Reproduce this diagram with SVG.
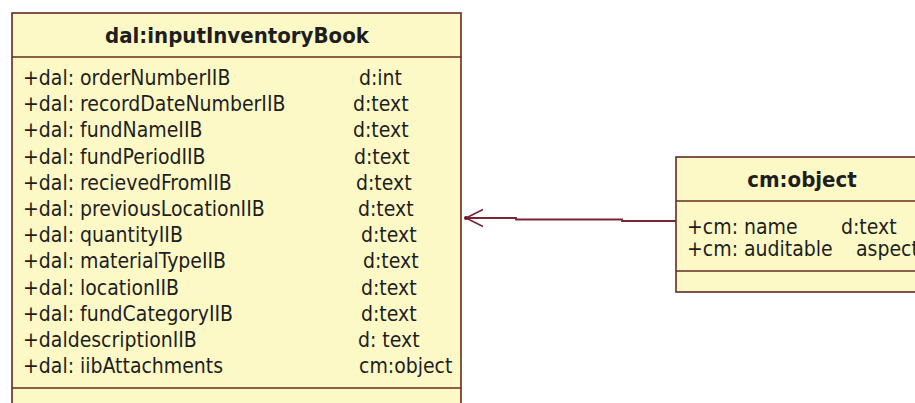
<svg xmlns="http://www.w3.org/2000/svg" width="915" height="403" viewBox="0 0 915 403">
  <defs>
    <style>
      .box { fill: #fdf9c6; stroke: #642a24; stroke-width: 1.6; }
      .sep { stroke: #642a24; stroke-width: 1.6; }
      .title { font-family: "DejaVu Sans Condensed", "DejaVu Sans", sans-serif; font-size: 22px; font-weight: bold; fill: #1e1e1e; text-anchor: middle; }
      .attr { font-family: "DejaVu Sans Condensed", "DejaVu Sans", sans-serif; font-size: 21px; fill: #1e1e1e; }
      .link { fill: none; stroke: #7a2434; stroke-width: 1.8; }
    </style>
    <marker id="openArrow" viewBox="0 0 20 20" refX="18" refY="10" markerWidth="20" markerHeight="20" markerUnits="userSpaceOnUse" orient="auto">
      <path d="M1 1.5 L18 10 L1 18.5" fill="none" stroke="#7a2434" stroke-width="1.6"/>
      <circle cx="18" cy="10" r="2" fill="#6a1a2a"/>
    </marker>
  </defs>

  <rect width="915" height="403" fill="#ffffff"/>

  <!-- class dal:inputInventoryBook -->
  <g id="inputInventoryBook">
    <rect class="box" x="12" y="13" width="449" height="420"/>
    <line class="sep" x1="12" y1="57" x2="461" y2="57"/>
    <line class="sep" x1="12" y1="388" x2="461" y2="388"/>
    <text class="title" x="237" y="43">dal:inputInventoryBook</text>
    <g class="attr">
      <text x="23" y="85">+dal: orderNumberIIB</text>
      <text x="23" y="111">+dal: recordDateNumberIIB</text>
      <text x="23" y="137">+dal: fundNameIIB</text>
      <text x="23" y="164">+dal: fundPeriodIIB</text>
      <text x="23" y="190">+dal: recievedFromIIB</text>
      <text x="23" y="216">+dal: previousLocationIIB</text>
      <text x="23" y="242">+dal: quantityIIB</text>
      <text x="23" y="268">+dal: materialTypeIIB</text>
      <text x="23" y="295">+dal: locationIIB</text>
      <text x="23" y="321">+dal: fundCategoryIIB</text>
      <text x="23" y="347">+daldescriptionIIB</text>
      <text x="23" y="373">+dal: iibAttachments</text>
      <text x="359" y="85">d:int</text>
      <text x="353" y="111">d:text</text>
      <text x="353" y="137">d:text</text>
      <text x="354" y="164">d:text</text>
      <text x="356" y="190">d:text</text>
      <text x="358" y="216">d:text</text>
      <text x="361" y="242">d:text</text>
      <text x="363" y="268">d:text</text>
      <text x="361" y="295">d:text</text>
      <text x="361" y="321">d:text</text>
      <text x="358" y="347">d: text</text>
      <text x="359" y="373">cm:object</text>
    </g>
  </g>

  <!-- class cm:object -->
  <g id="cmObject">
    <rect class="box" x="676" y="157" width="260" height="135"/>
    <line class="sep" x1="676" y1="201" x2="936" y2="201"/>
    <line class="sep" x1="676" y1="271" x2="936" y2="271"/>
    <text class="title" x="802" y="187">cm:object</text>
    <g class="attr">
      <text x="687" y="234">+cm: name</text>
      <text x="687" y="256">+cm: auditable</text>
      <text x="841" y="234">d:text</text>
      <text x="856" y="256">aspect</text>
    </g>
  </g>

  <!-- association: cm:object -> dal:inputInventoryBook -->
  <g id="connectors">
    <path class="link" d="M676 221 L622 221 L622 219.5 L516 219.5 L516 218 L466 218" marker-end="url(#openArrow)"/>
  </g>
</svg>
